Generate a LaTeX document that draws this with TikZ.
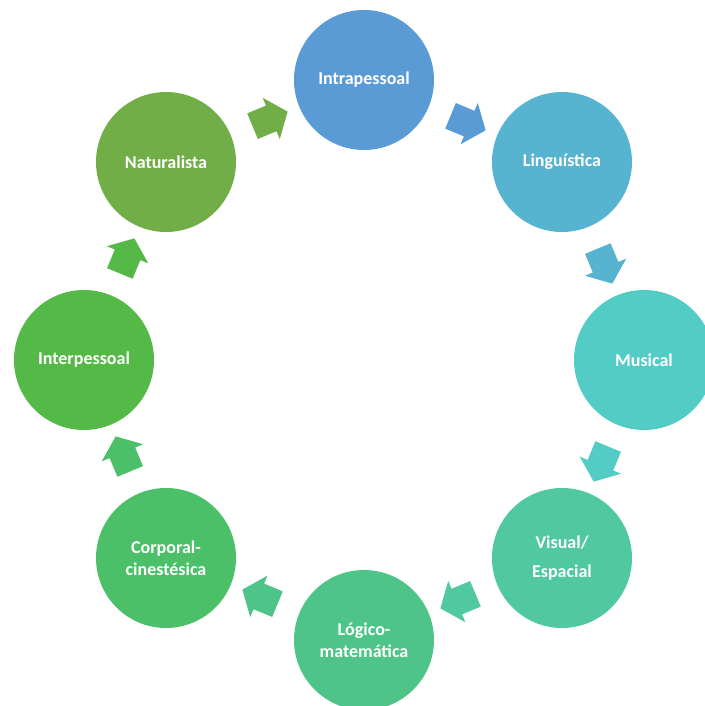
\documentclass[tikz,border=0pt]{standalone}
\usepackage{fontspec}
\setmainfont{Carlito}
\usetikzlibrary{shapes.arrows}

\definecolor{cIntra}{RGB}{91,155,213}
\definecolor{cLing}{RGB}{87,180,208}
\definecolor{cMus}{RGB}{83,204,197}
\definecolor{cVis}{RGB}{80,200,160}
\definecolor{cLog}{RGB}{78,196,136}
\definecolor{cCor}{RGB}{76,192,104}
\definecolor{cInter}{RGB}{85,185,72}
\definecolor{cNat}{RGB}{114,174,71}

\tikzset{every picture/.style={line width=0.75pt}}
\tikzset{
  ball/.style={circle, fill=#1, draw=none, minimum size=105pt, inner sep=0pt,
    text=white, font=\bfseries\fontsize{13.5}{16.5}\selectfont, align=center},
  blockarrow/.style={single arrow, fill=#1, draw=none, inner xsep=0pt, inner ysep=10pt,
    minimum height=28.5pt, single arrow head extend=6.4pt, single arrow tip angle=103},
}

\begin{document}
\begin{tikzpicture}[x=0.75pt,y=0.75pt]
\useasboundingbox (-364,-346) rectangle (341,360);
\clip (-364,-346) rectangle (341,360);

% Circles round the ring
\node[ball=cIntra] (intra) at (90:280) {Intrapessoal};
\node[ball=cLing] (ling) at (45:280) {Linguística};
\node[ball=cMus] (mus) at (0:280) {Musical};
\node[ball=cVis] (vis) at (-45:280) {Visual/\\[5pt]Espacial};
\node[ball=cLog] (log) at (-90:280) {Lógico-\\matemática};
\node[ball=cCor] (cor) at (-135:280) {Corporal-\\cinestésica};
\node[ball=cInter] (inter) at (180:280) {Interpessoal};
\node[ball=cNat] (nat) at (135:280) {Naturalista};

% Block arrows between neighbours
\foreach \from/\to/\col in {nat/intra/cNat, intra/ling/cIntra, ling/mus/cLing,
    mus/vis/cMus, vis/log/cVis, log/cor/cLog, cor/inter/cCor, inter/nat/cInter}
  \path (\from) -- node[blockarrow=\col, sloped, allow upside down, midway] {} (\to);
\end{tikzpicture}
\end{document}
